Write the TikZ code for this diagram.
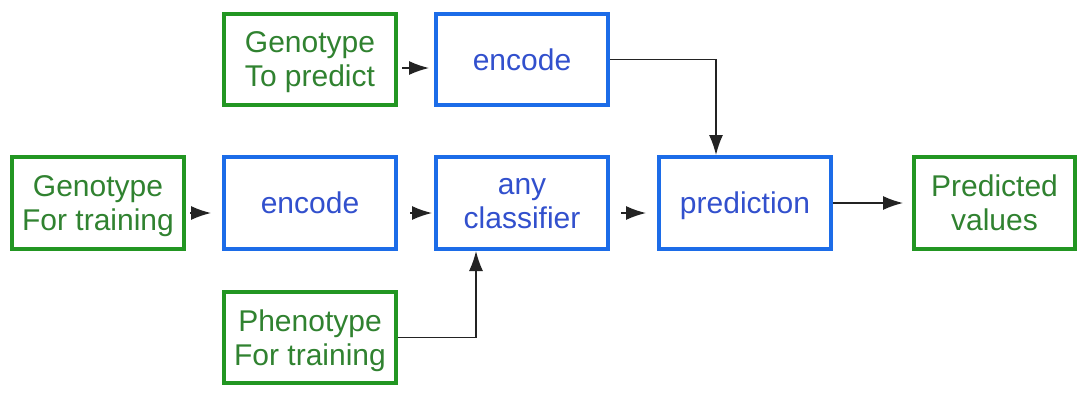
\documentclass[tikz,border=0pt]{standalone}
\usepackage{fontspec}
\setmainfont{Liberation Sans}
\usetikzlibrary{arrows.meta}
\definecolor{boxgreen}{RGB}{34,150,34}
\definecolor{txtgreen}{RGB}{48,130,48}
\definecolor{boxblue}{RGB}{28,108,232}
\definecolor{txtblue}{RGB}{50,80,205}
\definecolor{wire}{RGB}{35,35,35}
\begin{document}
\begin{tikzpicture}[x=1pt,y=-1pt,
    databox/.style={draw=boxgreen,text=txtgreen,line width=4pt,inner sep=1pt,
      minimum width=172pt,minimum height=92pt,align=center,text depth=0pt,
      font=\fontsize{30}{34}\selectfont},
    stepbox/.style={databox,draw=boxblue,text=txtblue},
    flow/.style={-{Latex[length=20pt,width=14pt]},wire,line width=1.4pt}]
    \useasboundingbox (0,0) rectangle (1078,392);

    \node[databox,minimum height=91pt] (gpred) at (310,59.5) {Genotype\\To predict};
    \node[stepbox,minimum height=91pt] (enctop) at (522,59.5) {encode};

    \node[databox] (gtrain) at (98,203) {Genotype\\For training};
    \node[stepbox] (encmid) at (310,203) {encode};
    \node[stepbox] (clf) at (522,203) {any\\classifier};
    \node[stepbox] (pred) at (745,203) {prediction};
    \node[databox,minimum width=161pt] (predval) at (994.5,203) {Predicted\\values};

    \node[databox,minimum height=91pt] (pheno) at (310,337.5) {Phenotype\\For training};

    \draw[flow,shorten <=4pt,shorten >=5pt] ([yshift=-8.5pt]gpred.east) -- ([yshift=-8.5pt]enctop.west);
    \draw[flow,shorten <=4pt,shorten >=11pt] ([yshift=-10pt]gtrain.east) -- ([yshift=-10pt]encmid.west);
    \draw[flow,shorten <=12pt,shorten >=2pt] ([yshift=-10pt]encmid.east) -- ([yshift=-10pt]clf.west);
    \draw[flow,shorten <=11pt,shorten >=11pt] ([yshift=-10pt]clf.east) -- ([yshift=-10pt]pred.west);
    \draw[flow,shorten >=9pt] (pred.east) -- (predval.west);

    % side inputs
    \draw[flow] (enctop.east) -| ([xshift=-29pt]pred.north);
    \draw[flow] (pheno.east) -| ([xshift=-46pt]clf.south);
\end{tikzpicture}
\end{document}
